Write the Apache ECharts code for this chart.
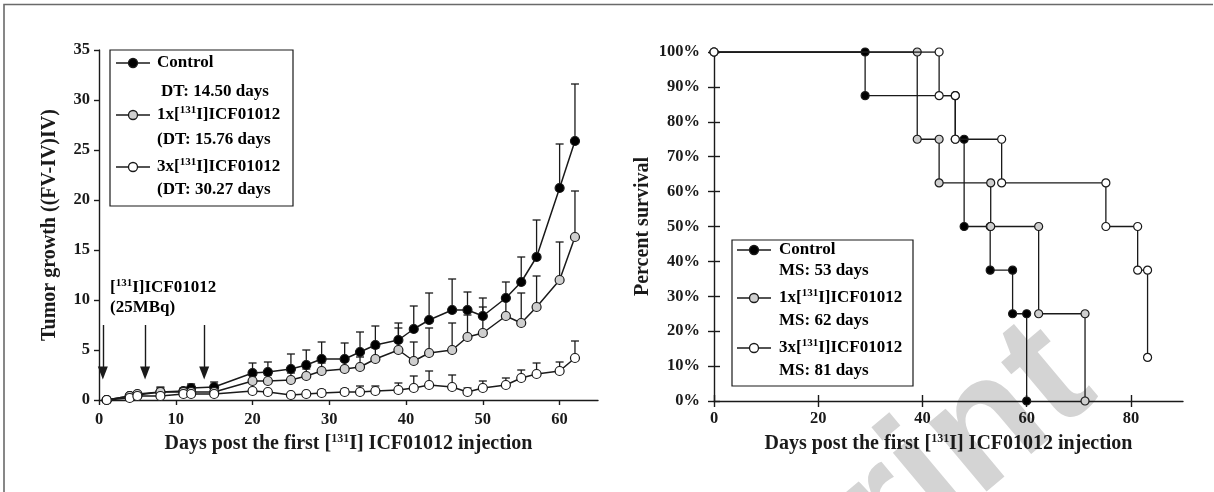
<!DOCTYPE html>
<html><head><meta charset="utf-8">
<script src="https://cdn.jsdelivr.net/npm/echarts@6/dist/echarts.min.js"></script>
<style>html,body{margin:0;padding:0;background:#fff}#c{width:1214px;height:492px}</style>
</head><body><div id="c"></div>
<script>
// ---------- Left panel: tumour growth ----------
const growthDays = [1,4,5,8,11,12,15,20,22,25,27,29,32,34,36,39,41,43,46,48,50,53,55,57,60,62];
const controlMean = [0,0.4,0.5,0.8,0.9,1.2,1.3,2.7,2.8,3.1,3.5,4.1,4.1,4.8,5.5,6.0,7.1,8.0,9.0,9.0,8.4,10.2,11.8,14.3,21.2,25.9];
const controlTop  = [0,0.6,0.7,1.3,1.2,1.6,1.8,3.7,3.8,4.6,5.0,5.8,5.7,6.8,7.4,7.7,9.4,10.7,12.1,10.8,10.2,11.8,14.3,18.0,25.6,31.6];
const oneXMean    = [0,0.4,0.6,0.8,0.8,0.8,0.8,1.9,1.9,2.0,2.4,2.9,3.1,3.3,4.1,5.0,3.9,4.7,5.0,6.3,6.7,8.4,7.7,9.3,12.0,16.3];
const oneXTop     = [0,0.5,0.8,1.2,1.0,1.0,1.0,2.5,2.5,2.7,3.1,3.7,3.9,4.3,5.2,7.2,5.8,7.2,7.7,8.5,9.3,10.0,10.7,12.4,15.8,20.9];
const threeXMean  = [0,0.2,0.4,0.4,0.6,0.6,0.6,0.9,0.8,0.5,0.6,0.7,0.8,0.8,0.9,1.0,1.2,1.5,1.3,0.8,1.2,1.5,2.2,2.6,2.9,4.2];
const threeXTop   = [0,0.3,0.5,0.5,0.7,0.7,0.7,1.1,1.0,0.7,0.8,1.0,1.1,1.4,1.4,1.7,2.4,2.9,2.5,1.2,1.9,2.2,3.0,3.7,3.8,5.9];
const injectionDays = [0.5, 6, 13.7];
const arrowFrom = 7.5, arrowTo = 2.7;
const growthTicks = [0,10,20,30,40,50,60];

// ---------- Right panel: survival ----------
const ctrlEventDays   = [29, 46.3, 48, 53, 57.3, 60];
const ctrlLevels      = [100, 87.5, 75, 50, 37.5, 25, 0];
const oneXEventDays   = [39, 43.2, 53.1, 62.3, 71.2];
const oneXLevels      = [100, 75, 62.5, 50, 25, 0];
const threeXEventDays = [43.2, 46.3, 55.2, 75.2, 81.3, 83.2];
const threeXLevels    = [100, 87.5, 75, 62.5, 50, 37.5, 12.5];
const survivalTicks = [0,20,40,60,80];

const FONT = 'Liberation Serif';
const INK = '#1a1a1a';
const GRAY = '#cfcfcf';

function pairs(xs, ys){ return xs.map((x,i)=>[x, ys[i]]); }
function errData(xs, ys, tops){ return xs.map((x,i)=>[x, ys[i], tops[i]]); }
function stepPoints(days, levels){
  const pts = [[0, levels[0]]];
  days.forEach((d,i)=>{ pts.push([d, levels[i]]); pts.push([d, levels[i+1]]); });
  return pts;
}
function errSeries(name, data){
  return {
    type:'custom', name: name, xAxisIndex:0, yAxisIndex:0, z:1, silent:true,
    data: data,
    renderItem: function(params, api){
      const p0 = api.coord([api.value(0), api.value(1)]);
      const p1 = api.coord([api.value(0), api.value(2)]);
      return {type:'group', children:[
        {type:'line', shape:{x1:p0[0], y1:p0[1], x2:p1[0], y2:p1[1]}, style:{stroke:INK, lineWidth:1.3}},
        {type:'line', shape:{x1:p1[0]-4, y1:p1[1], x2:p1[0]+4, y2:p1[1]}, style:{stroke:INK, lineWidth:1.3}}
      ]};
    }
  };
}

const labelStyle = {fontFamily:FONT, fontWeight:'bold', fontSize:16.5, color:INK};
const nameRich = {
  n:{fontFamily:FONT, fontWeight:'bold', fontSize:20, color:INK, lineHeight:22},
  s:{fontFamily:FONT, fontWeight:'bold', fontSize:12, color:INK, lineHeight:22, verticalAlign:'top'}
};
const xName = '{n|Days post the first [}{s|131}{n|I] ICF01012 injection}';
const lineAx = {lineStyle:{color:INK, width:1.4}};
const tickSty = {color:INK, width:1.4};
const legRich = {
  n:{fontFamily:FONT, fontWeight:'bold', fontSize:17, color:INK, lineHeight:20},
  s:{fontFamily:FONT, fontWeight:'bold', fontSize:11, color:INK, lineHeight:20, verticalAlign:'top'}
};

const chart = echarts.init(document.getElementById('c'), null, {renderer:'canvas'});

function legendBlock(x, y, w, h, rows, symX, textX){
  const els = [{type:'rect', shape:{x:x, y:y, width:w, height:h}, style:{fill:'#fff', stroke:INK, lineWidth:1.2}, z:50}];
  rows.forEach(r=>{
    if (r.fill){
      els.push({type:'line', shape:{x1:symX-17, y1:r.y, x2:symX+17, y2:r.y}, style:{stroke:INK, lineWidth:1.4}, z:51});
      els.push({type:'circle', shape:{cx:symX, cy:r.y, r:4.5}, style:{fill:r.fill, stroke:INK, lineWidth:1.3}, z:52});
    }
    els.push({type:'text', x:textX + (r.dx||0), y:r.y, z:52, style:{text:r.t, rich:legRich, verticalAlign:'middle', align:'left'}});
  });
  return els;
}

const leftLegend = legendBlock(110, 50, 183, 156, [
  {y:63, t:'{n|Control}', fill:'#000'},
  {y:92, t:'{n|DT: 14.50 days}', dx:4},
  {y:115, t:'{n|1x[}{s|131}{n|I]ICF01012}', fill:GRAY},
  {y:140, t:'{n|(DT: 15.76 days}'},
  {y:167, t:'{n|3x[}{s|131}{n|I]ICF01012}', fill:'#fff'},
  {y:190, t:'{n|(DT: 30.27 days}'}
], 133, 157);
const rightLegend = legendBlock(732, 240, 181, 146, [
  {y:250, t:'{n|Control}', fill:'#000'},
  {y:271, t:'{n|MS: 53 days}'},
  {y:298, t:'{n|1x[}{s|131}{n|I]ICF01012}', fill:GRAY},
  {y:321, t:'{n|MS: 62 days}'},
  {y:348, t:'{n|3x[}{s|131}{n|I]ICF01012}', fill:'#fff'},
  {y:371, t:'{n|MS: 81 days}'}
], 754, 779);

const option = {
  animation:false,
  backgroundColor:'#fff',
  grid:[
    {left:99, top:50, width:499, height:350},
    {left:714, top:52, width:469, height:349}
  ],
  xAxis:[
    {gridIndex:0, type:'value', min:0, max:65, interval:10, axisLine:{onZero:false, ...lineAx},
     axisTick:{length:5, lineStyle:tickSty, customValues:growthTicks}, splitLine:{show:false},
     axisLabel:{...labelStyle, margin:11, customValues:growthTicks},
     name:xName, nameLocation:'middle', nameGap:32, nameTextStyle:{rich:nameRich}},
    {gridIndex:1, type:'value', min:0, max:90, interval:20, position:'bottom', axisLine:{onZero:false, ...lineAx},
     axisTick:{length:6, lineStyle:tickSty, customValues:survivalTicks}, splitLine:{show:false},
     axisLabel:{...labelStyle, margin:9, customValues:survivalTicks},
     name:xName, nameLocation:'middle', nameGap:32, nameTextStyle:{rich:nameRich}},
    {gridIndex:1, type:'value', min:0, max:90, interval:20, position:'bottom', axisLine:{show:false, onZero:false},
     axisTick:{inside:true, length:6, lineStyle:tickSty, customValues:survivalTicks}, splitLine:{show:false}, axisLabel:{show:false}}
  ],
  yAxis:[
    {gridIndex:0, type:'value', min:0, max:35, interval:5, position:'left', axisLine:{show:true, onZero:false, ...lineAx},
     axisTick:{show:true, length:5, lineStyle:tickSty}, splitLine:{show:false},
     axisLabel:{...labelStyle, margin:9},
     name:'Tumor growth ((FV-IV)IV)', nameLocation:'middle', nameGap:39,
     nameTextStyle:{fontFamily:FONT, fontWeight:'bold', fontSize:20, color:INK}},
    {gridIndex:1, type:'value', min:0, max:100, interval:10, position:'left', axisLine:{show:true, onZero:false, ...lineAx},
     axisTick:{show:true, length:6, lineStyle:tickSty}, splitLine:{show:false},
     axisLabel:{...labelStyle, margin:14, formatter:'{value}%'},
     name:'Percent survival', nameLocation:'middle', nameGap:61,
     nameTextStyle:{fontFamily:FONT, fontWeight:'bold', fontSize:20, color:INK}},
    {gridIndex:1, type:'value', min:0, max:100, interval:10, position:'left', axisLine:{show:false, onZero:false},
     axisTick:{show:true, inside:true, length:6, lineStyle:tickSty}, splitLine:{show:false}, axisLabel:{show:false}}
  ],
  series:[
    errSeries('Control SD', errData(growthDays, controlMean, controlTop)),
    errSeries('1x SD', errData(growthDays, oneXMean, oneXTop)),
    errSeries('3x SD', errData(growthDays, threeXMean, threeXTop)),
    {type:'line', name:'Control', xAxisIndex:0, yAxisIndex:0, z:3, data:pairs(growthDays, controlMean),
     symbol:'circle', symbolSize:9, lineStyle:{color:INK, width:1.5},
     itemStyle:{color:'#000', borderColor:INK, borderWidth:1.2},
     markLine:{silent:true, symbol:['none','triangle'], symbolSize:[10,13], label:{show:false},
       lineStyle:{color:INK, width:1.4, type:'solid'},
       data: injectionDays.map(d=>[{coord:[d, arrowFrom]},{coord:[d, arrowTo]}])}},
    {type:'line', name:'1x[131I]ICF01012', xAxisIndex:0, yAxisIndex:0, z:4, data:pairs(growthDays, oneXMean),
     symbol:'circle', symbolSize:9, lineStyle:{color:INK, width:1.5},
     itemStyle:{color:GRAY, borderColor:INK, borderWidth:1.2}},
    {type:'line', name:'3x[131I]ICF01012', xAxisIndex:0, yAxisIndex:0, z:5, data:pairs(growthDays, threeXMean),
     symbol:'circle', symbolSize:9, lineStyle:{color:INK, width:1.5},
     itemStyle:{color:'#fff', borderColor:INK, borderWidth:1.2}},
    {type:'line', name:'Control survival', xAxisIndex:1, yAxisIndex:1, z:3, data:stepPoints(ctrlEventDays, ctrlLevels),
     symbol:'circle', symbolSize:8, lineStyle:{color:INK, width:1.3},
     itemStyle:{color:'#000', borderColor:INK, borderWidth:1.2}},
    {type:'line', name:'1x survival', xAxisIndex:1, yAxisIndex:1, z:4, data:stepPoints(oneXEventDays, oneXLevels),
     symbol:'circle', symbolSize:8, lineStyle:{color:INK, width:1.3},
     itemStyle:{color:GRAY, borderColor:INK, borderWidth:1.2}},
    {type:'line', name:'3x survival', xAxisIndex:1, yAxisIndex:1, z:5, data:stepPoints(threeXEventDays, threeXLevels),
     symbol:'circle', symbolSize:8, lineStyle:{color:INK, width:1.3},
     itemStyle:{color:'#fff', borderColor:INK, borderWidth:1.2}}
  ],
  graphic:[
    {type:'text', x:1125, y:425, rotation:40*Math.PI/180, z:0, silent:true,
     style:{text:'Preprint', fontFamily:'Liberation Sans', fontWeight:'bold', fontSize:170, fill:'#d4d4d4', align:'right', verticalAlign:'bottom'}},
    {type:'polyline', shape:{points:[[4,492],[4,4.5],[1213,4.5]]}, style:{fill:null, stroke:'#6a6a6a', lineWidth:1.6}, z:0},
    {type:'text', x:110, y:288, style:{text:'{n|[}{s|131}{n|I]ICF01012}', rich:legRich, verticalAlign:'middle'}},
    {type:'text', x:110, y:308, style:{text:'{n|(25MBq)}', rich:legRich, verticalAlign:'middle'}},
    ...leftLegend, ...rightLegend
  ]
};
chart.setOption(option);
</script></body></html>
